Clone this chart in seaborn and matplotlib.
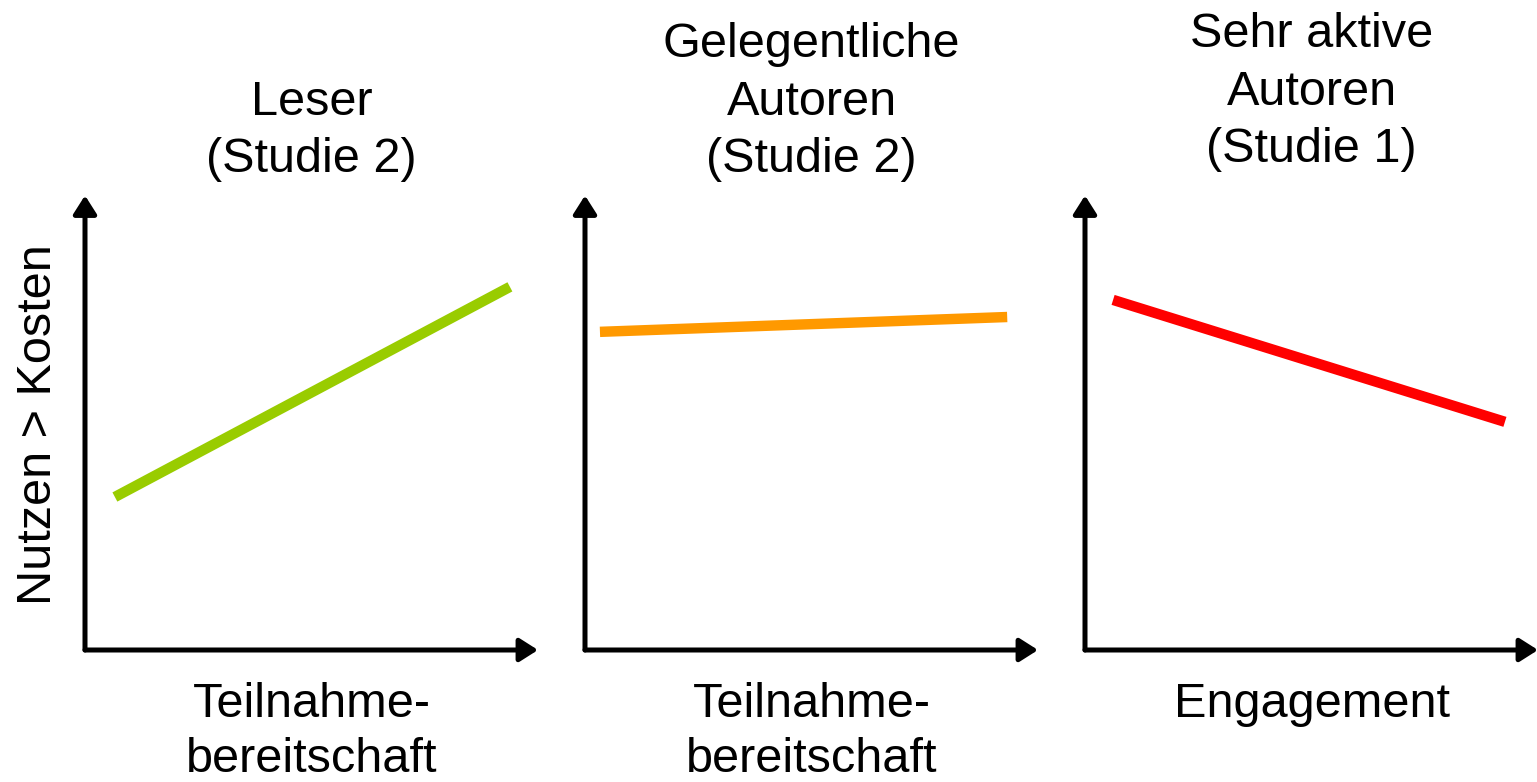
import pandas as pd
import matplotlib.pyplot as plt
import seaborn as sns

sns.set_style("white")
plt.rcParams['font.family'] = ['Liberation Sans', 'DejaVu Sans']
plt.rcParams['text.color'] = 'black'
plt.rcParams['axes.labelcolor'] = 'black'

# Panel data (schematic lines, start and end point in arbitrary units 0-10)
panel_titles = ['Leser\n(Studie 2)', 'Gelegentliche\nAutoren\n(Studie 2)', 'Sehr aktive\nAutoren\n(Studie 1)']
x_labels = ['Teilnahme-\nbereitschaft', 'Teilnahme-\nbereitschaft', 'Engagement']
y_label = 'Nutzen > Kosten'
x_start = [0.66, 0.33, 0.62]
x_end = [9.38, 9.32, 9.27]
y_start = [3.40, 7.07, 7.78]
y_end = [8.07, 7.40, 5.07]
colors = ['#99cc00', '#ff9900', '#ff0000']

W, H = 1537, 782
fig = plt.figure(figsize=(W / 100, H / 100), dpi=100)

lefts = [85, 585, 1085]
width = 453
bottom, top = 650, 200

for i in range(3):
    ax = fig.add_axes([lefts[i] / W, 1 - bottom / H, width / W, (bottom - top) / H])
    df = pd.DataFrame({'x': [x_start[i], x_end[i]], 'y': [y_start[i], y_end[i]]})
    sns.lineplot(data=df, x='x', y='y', ax=ax, color=colors[i], linewidth=7.5,
                 solid_capstyle='butt')
    ax.set_xlim(0, 10)
    ax.set_ylim(0, 10)
    for s in ax.spines.values():
        s.set_visible(False)
    ax.set_xticks([])
    ax.set_yticks([])

    # axis arrows
    arrow = dict(arrowstyle='-|>,head_length=1.1,head_width=0.7', color='black',
                 lw=3.6, shrinkA=0, shrinkB=0)
    ax.annotate('', xy=(0, 1.01), xytext=(0, 0), xycoords='axes fraction',
                arrowprops=arrow, annotation_clip=False)
    ax.annotate('', xy=(1.0, 0), xytext=(0, 0), xycoords='axes fraction',
                arrowprops=arrow, annotation_clip=False)

    ax.set_title(panel_titles[i], fontsize=35, linespacing=1.36,
                 pad=20 if i < 2 else 27)
    ax.set_xlabel(x_labels[i], fontsize=35, linespacing=1.3, labelpad=23, va='top')
    if i == 0:
        ax.set_ylabel(y_label, fontsize=35, labelpad=17)
    else:
        ax.set_ylabel('')

fig.savefig('out.png', dpi=100)
